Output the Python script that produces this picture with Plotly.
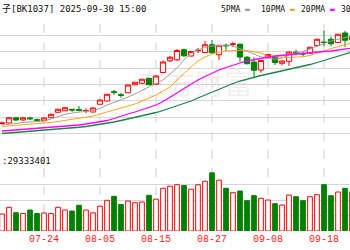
import plotly.graph_objects as go

dates = ["07-16","07-17","07-18","07-21","07-22","07-23","07-24","07-25","07-28","07-29",
         "07-30","07-31","08-01","08-04","08-05","08-06","08-07","08-08","08-11","08-12",
         "08-13","08-14","08-15","08-18","08-19","08-20","08-21","08-22","08-25","08-26",
         "08-27","08-28","08-29","09-01","09-02","09-03","09-04","09-05","09-08","09-09",
         "09-10","09-11","09-12","09-15","09-16","09-17","09-18","09-19","09-22","09-23","09-24"]
tick_labels = ["07-24","08-05","08-15","08-27","09-08","09-18"]

opens = [1106,1108,1129,1120,1128,1121,1117,1129,1151,1157,1163,1161,1156,1152,1183,1196,1233,1221,1229,1261,
         1267,1287,1263,1310,1357,1361,1401,1376,1397,1390,1421,1381,1419,1422,1423,1371,1352,1320,1369,1371,
         1347,1355,1391,1386,1387,1418,1432,1443,1430,1468,1440]
highs = [1114,1132,1133,1132,1133,1127,1130,1145,1165,1172,1164,1176,1167,1170,1202,1224,1240,1229,1262,1272,
         1285,1288,1298,1358,1376,1404,1406,1396,1408,1436,1440,1420,1426,1433,1426,1376,1370,1360,1385,1374,
         1358,1394,1402,1392,1413,1445,1477,1454,1465,1477,1460]
lows = [1100,1106,1116,1118,1120,1115,1116,1128,1149,1156,1153,1155,1147,1150,1182,1194,1220,1209,1228,1260,
        1266,1260,1262,1307,1352,1356,1372,1374,1388,1388,1384,1360,1396,1412,1353,1343,1292,1309,1366,1340,
        1338,1336,1378,1374,1385,1412,1415,1416,1428,1412,1436]
closes = [1108,1129,1120,1129,1125,1119,1128,1143,1163,1169,1160,1159,1158,1168,1200,1223,1231,1219,1260,1271,
          1283,1261,1296,1352,1371,1398,1377,1394,1399,1421,1389,1419,1417,1424,1372,1345,1319,1358,1382,1350,
          1356,1392,1389,1384,1411,1443,1430,1425,1463,1439,1454]

ma5 = [1100,1102,1106,1110,1112,1114,1116,1124,1134,1143,1148,1151,1153,1158,1166,1180,1190,1200,1212,1224,
       1240,1253,1266,1280,1304,1328,1360,1388,1400,1410,1416,1418,1420,1416,1406,1396,1384,1372,1366,1363,
       1368,1380,1388,1394,1404,1416,1426,1436,1444,1450,1456]
ma10 = [1094,1096,1098,1100,1102,1104,1108,1110,1114,1118,1122,1126,1130,1136,1144,1152,1160,1168,1176,1184,
        1196,1208,1220,1236,1252,1280,1308,1332,1356,1372,1384,1392,1396,1398,1399,1398,1394,1388,1376,1372,
        1371,1370,1371,1373,1378,1386,1396,1406,1414,1422,1428]
ma20 = [1076,1078,1080,1082,1084,1087,1089,1091,1093,1095,1097,1100,1104,1108,1112,1118,1126,1136,1144,1152,
        1162,1170,1180,1194,1210,1228,1246,1264,1280,1294,1308,1320,1330,1340,1348,1356,1362,1368,1372,1376,
        1379,1381,1384,1386,1388,1391,1394,1396,1400,1404,1408]
ma30 = [1066,1068,1070,1072,1074,1076,1078,1080,1083,1086,1088,1091,1094,1098,1102,1107,1112,1118,1124,1130,
        1136,1143,1150,1158,1167,1176,1186,1196,1208,1220,1232,1244,1256,1266,1276,1284,1292,1298,1304,1310,
        1316,1322,1328,1334,1342,1350,1358,1366,1374,1384,1392]

volumes = [17.0,23.7,18.3,17.5,21.0,17.5,18.0,17.5,23.7,21.0,20.0,25.7,21.0,18.2,24.8,30.7,34.7,26.5,30.0,28.3,
           29.0,35.7,31.8,42.7,44.8,46.3,45.5,41.8,46.2,49.8,58.2,50.8,42.7,38.3,40.0,30.3,35.3,32.7,31.0,27.3,
           26.0,36.0,34.3,30.3,34.3,36.3,46.3,35.3,39.0,42.7,39.3]  # millions

title_text = "子[BK1037] 2025-09-30 15:00"
vol_text = ":29333401"
ma_names = ["5PMA", "10PMA", "20PMA", "30PMA"]
watermark = "东方财富"

RED = "#ff0000"
GREEN = "#008000"
MA_COLORS = ["#a0a0a0", "#f5a623", "#ff00ff", "#1e8449"]
GRID = "#d6d6d6"

x = list(range(len(dates)))
up = [c >= o for o, c in zip(opens, closes)]

fig = go.Figure()

fig.add_trace(go.Candlestick(
    x=x, open=opens, high=highs, low=lows, close=closes,
    increasing=dict(line=dict(color=RED, width=1), fillcolor="white"),
    decreasing=dict(line=dict(color=GREEN, width=1), fillcolor=GREEN),
    whiskerwidth=0, xaxis="x", yaxis="y", showlegend=False, hoverinfo="skip"))

for vals, col, w in zip([ma5, ma10, ma20, ma30], MA_COLORS, [1, 1, 1.3, 1.3]):
    fig.add_trace(go.Scatter(x=x, y=vals, mode="lines", line=dict(color=col, width=w),
                             xaxis="x", yaxis="y", showlegend=False, hoverinfo="skip"))

fig.add_trace(go.Bar(
    x=x, y=volumes,
    marker=dict(color=["white" if u else GREEN for u in up],
                line=dict(color=[RED if u else GREEN for u in up], width=1)),
    xaxis="x2", yaxis="y2", showlegend=False, hoverinfo="skip"))

tickvals = [dates.index(d) for d in tick_labels]
xr = [-2/7, 348/7]

# dashed vertical date lines
for tv in tickvals:
    fig.add_shape(type="line", xref="x", yref="paper", x0=tv, x1=tv, y0=0.076, y1=0.924,
                  line=dict(color="#cfcfcf", width=1, dash="dash"), layer="below")

fig.update_layout(
    width=350, height=250, margin=dict(l=0, r=0, t=0, b=0),
    paper_bgcolor="white", plot_bgcolor="white",
    boxgap=0.25, boxgroupgap=0, bargap=0.33,
    xaxis=dict(domain=[0, 1], range=xr, showticklabels=False, showgrid=False, zeroline=False,
               anchor="y", fixedrange=True),
    yaxis=dict(domain=[0.4, 0.924], range=[1000, 1524], tick0=1000, dtick=65.5, showticklabels=False,
               showgrid=True, gridcolor=GRID, gridwidth=1, zeroline=False, anchor="x"),
    xaxis2=dict(domain=[0, 1], range=xr, tickmode="array", tickvals=tickvals, ticktext=tick_labels,
                showgrid=False, zeroline=False, anchor="y2", ticks="",
                tickfont=dict(family="Liberation Mono, DejaVu Sans Mono", size=10, color="#f22")),
    yaxis2=dict(domain=[0.076, 0.324], range=[0, 62], tick0=0, dtick=15.5, showticklabels=False,
                showgrid=True, gridcolor=GRID, gridwidth=1, zeroline=False, anchor="x2"),
    font=dict(family="DejaVu Sans Mono", size=9, color="#222"),
)

fig.layout.xaxis.rangeslider.visible = False

fig.add_annotation(text=title_text, xref="paper", yref="paper", x=0, y=1 - 9/250,
                   xanchor="left", yanchor="middle", showarrow=False,
                   font=dict(family="DejaVu Sans Mono, Noto Sans CJK SC", size=9, color="#111"))
fig.add_annotation(text=vol_text, xref="paper", yref="paper", x=0, y=1 - 161/250,
                   xanchor="left", yanchor="middle", showarrow=False,
                   font=dict(family="DejaVu Sans Mono", size=9, color="#111"))

for k, (name, col) in enumerate(zip(ma_names, MA_COLORS)):
    x0 = 219 + 40 * k
    fig.add_annotation(text=name + " <span style='color:%s'>▬</span>" % col, xref="paper", yref="paper",
                       x=x0 / 350, y=1 - 9/250, xanchor="left", yanchor="middle", showarrow=False,
                       font=dict(family="DejaVu Sans Mono", size=8, color="#111"))

fig.add_annotation(text=watermark, xref="paper", yref="paper", x=195/350, y=1 - 82/250,
                   xanchor="center", yanchor="middle", showarrow=False,
                   font=dict(family="Noto Sans CJK SC", size=29, color="rgba(0,0,0,0.07)"))

fig.write_html("out.html")
